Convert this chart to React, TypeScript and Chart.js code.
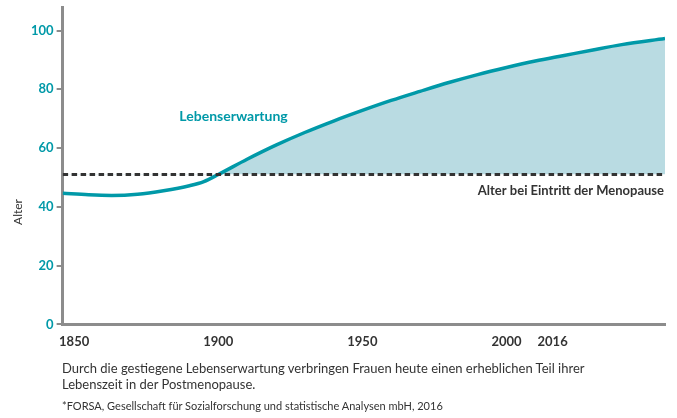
import React, { useEffect, useRef } from "react";
import { Chart, registerables } from "chart.js";

Chart.register(...registerables);

// ---- data ----
const years = [1846, 1855, 1863, 1872, 1881, 1890, 1895, 1900, 1910, 1920, 1930, 1940, 1950, 1960, 1970, 1980, 1990, 2000, 2010, 2020, 2030, 2040, 2055];
const lifeExpectancy = [44.6, 44.1, 43.9, 44.3, 45.5, 47.2, 48.6, 51.0, 56.2, 61.0, 65.3, 69.2, 72.8, 76.2, 79.3, 82.3, 85.0, 87.4, 89.6, 91.5, 93.4, 95.2, 97.3];
const menopauseAge = 51;
const xTickYears = [1850, 1900, 1950, 2000, 2016];
const yTickValues = [0, 20, 40, 60, 80, 100];
const xRange = [1846, 2055];
const yRange = [0, 108];

const lineLabel = "Lebenserwartung";
const menopauseLabel = "Alter bei Eintritt der Menopause";
const yTitle = "Alter";
const captionLines = [
  "Durch die gestiegene Lebenserwartung verbringen Frauen heute einen erheblichen Teil ihrer",
  "Lebenszeit in der Postmenopause.",
];
const footnote = "*FORSA, Gesellschaft für Sozialforschung und statistische Analysen mbH, 2016";

const TEAL = "rgb(0,153,168)";
const FILL = "rgb(185,219,226)";
const DARK = "#333333";
const AXIS = "#8c8c8c";
const FONT = 'Lato, "Open Sans", sans-serif';

const labelPlugin = {
  id: "labels",
  afterDatasetsDraw(chart: any) {
    const { ctx, scales, chartArea } = chart;
    const x = scales.x;
    const y = scales.y;
    ctx.save();
    ctx.textBaseline = "middle";
    ctx.font = `bold 14px ${FONT}`;
    ctx.fillStyle = TEAL;
    ctx.textAlign = "center";
    ctx.fillText(lineLabel, x.getPixelForValue(1905.3), y.getPixelForValue(70.8));
    ctx.font = `bold 13px ${FONT}`;
    ctx.fillStyle = DARK;
    ctx.textAlign = "right";
    ctx.fillText(menopauseLabel, chartArea.right - 1, y.getPixelForValue(45.6));
    ctx.translate(18, 212);
    ctx.rotate(-Math.PI / 2);
    ctx.textAlign = "center";
    ctx.font = `12px ${FONT}`;
    ctx.fillStyle = DARK;
    ctx.fillText(yTitle, 0, 0);
    ctx.restore();
  },
};

export default function App() {
  const ref = useRef<HTMLCanvasElement>(null);

  useEffect(() => {
    document.body.style.margin = "0";
    const canvas = ref.current;
    if (!canvas) return;
    const chart = new Chart(canvas, {
      type: "line",
      data: {
        datasets: [
          {
            label: lineLabel,
            data: years.map((yr, i) => ({ x: yr, y: lifeExpectancy[i] })),
            borderColor: TEAL,
            borderWidth: 3.5,
            pointRadius: 0,
            cubicInterpolationMode: "monotone",
            fill: { target: { value: menopauseAge }, above: FILL, below: "rgba(0,0,0,0)" },
            order: 2,
          } as any,
          {
            label: menopauseLabel,
            data: [
              { x: xRange[0], y: menopauseAge },
              { x: xRange[1], y: menopauseAge },
            ],
            borderColor: DARK,
            borderWidth: 3,
            borderDash: [5.5, 3.5],
            pointRadius: 0,
            fill: false,
            order: 1,
          },
        ],
      },
      options: {
        animation: false,
        responsive: false,
        maintainAspectRatio: false,
        layout: { padding: { left: 28, right: 12, top: 7, bottom: 3 } },
        plugins: { legend: { display: false }, tooltip: { enabled: false } },
        scales: {
          x: {
            type: "linear",
            min: xRange[0],
            max: xRange[1],
            afterBuildTicks: (axis: any) => {
              axis.ticks = xTickYears.map((v) => ({ value: v }));
            },
            grid: { display: false, drawTicks: false },
            border: { display: true, color: AXIS, width: 3 },
            ticks: {
              autoSkip: false,
              maxRotation: 0,
              padding: 10,
              color: DARK,
              font: { family: FONT, size: 13, weight: "bold" },
              callback: (v: any) => String(v),
            },
          },
          y: {
            min: yRange[0],
            max: yRange[1],
            afterBuildTicks: (axis: any) => {
              axis.ticks = yTickValues.map((v) => ({ value: v }));
            },
            afterFit: (axis: any) => {
              axis.paddingTop = 0;
              axis.paddingBottom = 0;
            },
            grid: { drawOnChartArea: false, drawTicks: true, tickLength: 6, color: AXIS, lineWidth: 2 },
            border: { display: true, color: AXIS, width: 3 },
            ticks: {
              padding: 3,
              color: TEAL,
              font: { family: FONT, size: 13, weight: "bold" },
            },
          },
        },
      },
      plugins: [labelPlugin],
    });
    return () => chart.destroy();
  }, []);

  return (
    <div style={{ position: "relative", width: 677, height: 418, background: "#fff", fontFamily: FONT }}>
      <canvas ref={ref} width={677} height={363} style={{ position: "absolute", left: 0, top: 0, width: 677, height: 363 }} />
      <div style={{ position: "absolute", left: 62, top: 360, fontSize: 13, lineHeight: "16px", color: DARK, whiteSpace: "nowrap" }}>
        {captionLines.map((l, i) => (
          <div key={i}>{l}</div>
        ))}
      </div>
      <div style={{ position: "absolute", left: 62, top: 399, fontSize: 11, lineHeight: "14px", color: DARK, whiteSpace: "nowrap" }}>
        {footnote}
      </div>
    </div>
  );
}
